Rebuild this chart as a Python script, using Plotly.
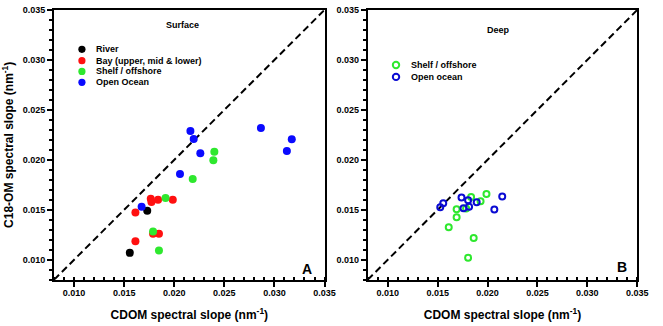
import plotly.graph_objects as go

# ---------------- data ----------------
# Panel A (Surface): CDOM spectral slope (x) vs C18-OM spectral slope (y)
river_x = [0.01556, 0.01730]
river_y = [0.01069, 0.01490]

bay_x = [0.01612, 0.01612, 0.01765, 0.01772, 0.01838, 0.01985, 0.01788, 0.01847]
bay_y = [0.01473, 0.01184, 0.01611, 0.01578, 0.01601, 0.01601, 0.01260, 0.01260]

shelf_s_x = [0.01913, 0.01788, 0.01847, 0.02184, 0.02390, 0.02400]
shelf_s_y = [0.01618, 0.01283, 0.01092, 0.01808, 0.01996, 0.02081]

ocean_s_x = [0.01674, 0.02057, 0.02161, 0.02194, 0.02260, 0.02865, 0.03124, 0.03173]
ocean_s_y = [0.01529, 0.01858, 0.02288, 0.02209, 0.02065, 0.02318, 0.02088, 0.02206]

# Panel B (Deep)
shelf_d_x = [0.01690, 0.01690, 0.01611, 0.01861, 0.01805, 0.01835, 0.01930, 0.01989, 0.01785]
shelf_d_y = [0.01506, 0.01424, 0.01325, 0.01217, 0.01020, 0.01628, 0.01585, 0.01657, 0.01513]

ocean_d_x = [0.01526, 0.01556, 0.01739, 0.01805, 0.01759, 0.01815, 0.01891, 0.02068, 0.02147]
ocean_d_y = [0.01526, 0.01565, 0.01624, 0.01595, 0.01516, 0.01529, 0.01575, 0.01503, 0.01634]

one_to_one = [0.008, 0.035]
axis_range = [0.008, 0.035]
tick_vals = [0.010, 0.015, 0.020, 0.025, 0.030, 0.035]
tick_text = ["0.010", "0.015", "0.020", "0.025", "0.030", "0.035"]

legend_a = ["River", "Bay (upper, mid & lower)", "Shelf / offshore", "Open Ocean"]
legend_b = ["Shelf / offshore", "Open ocean"]

# ---------------- style ----------------
W, H = 663, 326
FONT = "Liberation Sans, Arial, sans-serif"
C_BLACK, C_RED, C_GREEN, C_BLUE = "#000000", "#ff1010", "#2ee82e", "#0a0aff"
C_BLUE_B = "#0a0ad2"

def px_x(p):
    return p / W

def px_y(p):
    return 1 - p / H

fig = go.Figure()

def filled(x, y, color, name, xa, ya):
    fig.add_trace(go.Scatter(x=x, y=y, mode="markers", name=name, xaxis=xa, yaxis=ya,
                             marker=dict(color=color, size=8, line=dict(width=0)),
                             showlegend=False))

def opened(x, y, color, name, xa, ya):
    fig.add_trace(go.Scatter(x=x, y=y, mode="markers", name=name, xaxis=xa, yaxis=ya,
                             marker=dict(symbol="circle-open", color=color, size=6,
                                         line=dict(width=2, color=color)),
                             showlegend=False))

for xa, ya in (("x", "y"), ("x2", "y2")):
    fig.add_trace(go.Scatter(x=one_to_one, y=one_to_one, mode="lines", xaxis=xa, yaxis=ya,
                             line=dict(color="black", width=2, dash="7px,4px"),
                             showlegend=False, hoverinfo="skip"))

filled(river_x, river_y, C_BLACK, legend_a[0], "x", "y")
filled(bay_x, bay_y, C_RED, legend_a[1], "x", "y")
filled(shelf_s_x, shelf_s_y, C_GREEN, legend_a[2], "x", "y")
filled(ocean_s_x, ocean_s_y, C_BLUE, legend_a[3], "x", "y")

opened(shelf_d_x, shelf_d_y, C_GREEN, legend_b[0], "x2", "y2")
opened(ocean_d_x, ocean_d_y, C_BLUE_B, legend_b[1], "x2", "y2")

tickfont = dict(family=FONT, size=9, color="black", weight="bold")
titlefont = dict(family=FONT, size=12, color="black", weight="bold")

def xaxis(domain, anchor):
    return dict(domain=domain, anchor=anchor, range=axis_range, showgrid=False, zeroline=False,
                showline=True, linecolor="black", linewidth=2, mirror=True,
                tickmode="array", tickvals=tick_vals, ticktext=tick_text,
                ticks="outside", ticklen=5, tickwidth=1.5, tickcolor="black",
                ticklabelstandoff=-2,
                minor=dict(ticks="inside", ticklen=3, tickwidth=1.5, tickcolor="black",
                           dtick=0.001, tick0=0.0),
                tickfont=tickfont,
                title=dict(text="CDOM spectral slope (nm<sup>-1</sup>)", font=titlefont, standoff=14))

def yaxis(domain, anchor, title):
    d = dict(domain=domain, anchor=anchor, range=axis_range, showgrid=False, zeroline=False,
             showline=True, linecolor="black", linewidth=2, mirror=True,
             tickmode="array", tickvals=tick_vals, ticktext=tick_text,
             ticks="outside", ticklen=5, tickwidth=1.5, tickcolor="black",
             minor=dict(ticks="outside", ticklen=3, tickwidth=1.5, tickcolor="black",
                        dtick=0.001, tick0=0.0),
             tickfont=tickfont)
    if title:
        d["title"] = dict(text="C18-OM spectral slope (nm<sup>-1</sup>)", font=titlefont, standoff=8)
    return d

ydom = [px_y(279), px_y(5)]
fig.update_layout(
    width=W, height=H, margin=dict(l=0, r=0, t=0, b=0),
    paper_bgcolor="white", plot_bgcolor="white", showlegend=False,
    xaxis=xaxis([px_x(55), px_x(330)], "y"),
    yaxis=yaxis(ydom, "x", True),
    xaxis2=xaxis([px_x(374), px_x(648)], "y2"),
    yaxis2=yaxis(ydom, "x2", False),
)

annotations = []
shapes = []

def text(xp, yp, s, size=9, anchor="center"):
    annotations.append(dict(xref="paper", yref="paper", x=px_x(xp), y=px_y(yp), text=s,
                            showarrow=False, xanchor=anchor, yanchor="middle",
                            font=dict(family=FONT, size=size, color="black", weight="bold")))

def legend_dot(xp, yp, color, open_=False):
    r = 3.6 if not open_ else 3.2
    shapes.append(dict(type="circle", xref="paper", yref="paper",
                       xsizemode="pixel", ysizemode="pixel",
                       xanchor=px_x(xp), yanchor=px_y(yp),
                       x0=-r, x1=r, y0=-r, y1=r,
                       fillcolor=("white" if open_ else color),
                       line=dict(color=color, width=(2 if open_ else 0))))

text(186, 20, "Surface")
text(507, 25, "Deep")
text(312, 268, "A", size=14)
text(633, 266, "B", size=14)

rows_a = [45, 56.5, 67.5, 78.5]
for lbl, col, yy in zip(legend_a, [C_BLACK, C_RED, C_GREEN, C_BLUE], rows_a):
    legend_dot(83.3, yy, col)
    text(96, yy, lbl, anchor="left")

rows_b = [61, 73]
for lbl, col, yy in zip(legend_b, [C_GREEN, C_BLUE_B], rows_b):
    legend_dot(402.7, yy, col, open_=True)
    text(416, yy, lbl, anchor="left")

fig.update_layout(annotations=annotations, shapes=shapes)

fig.write_html("out.html", config={"displayModeBar": False},
               post_script="document.body.style.margin='0';document.body.style.padding='0';")
